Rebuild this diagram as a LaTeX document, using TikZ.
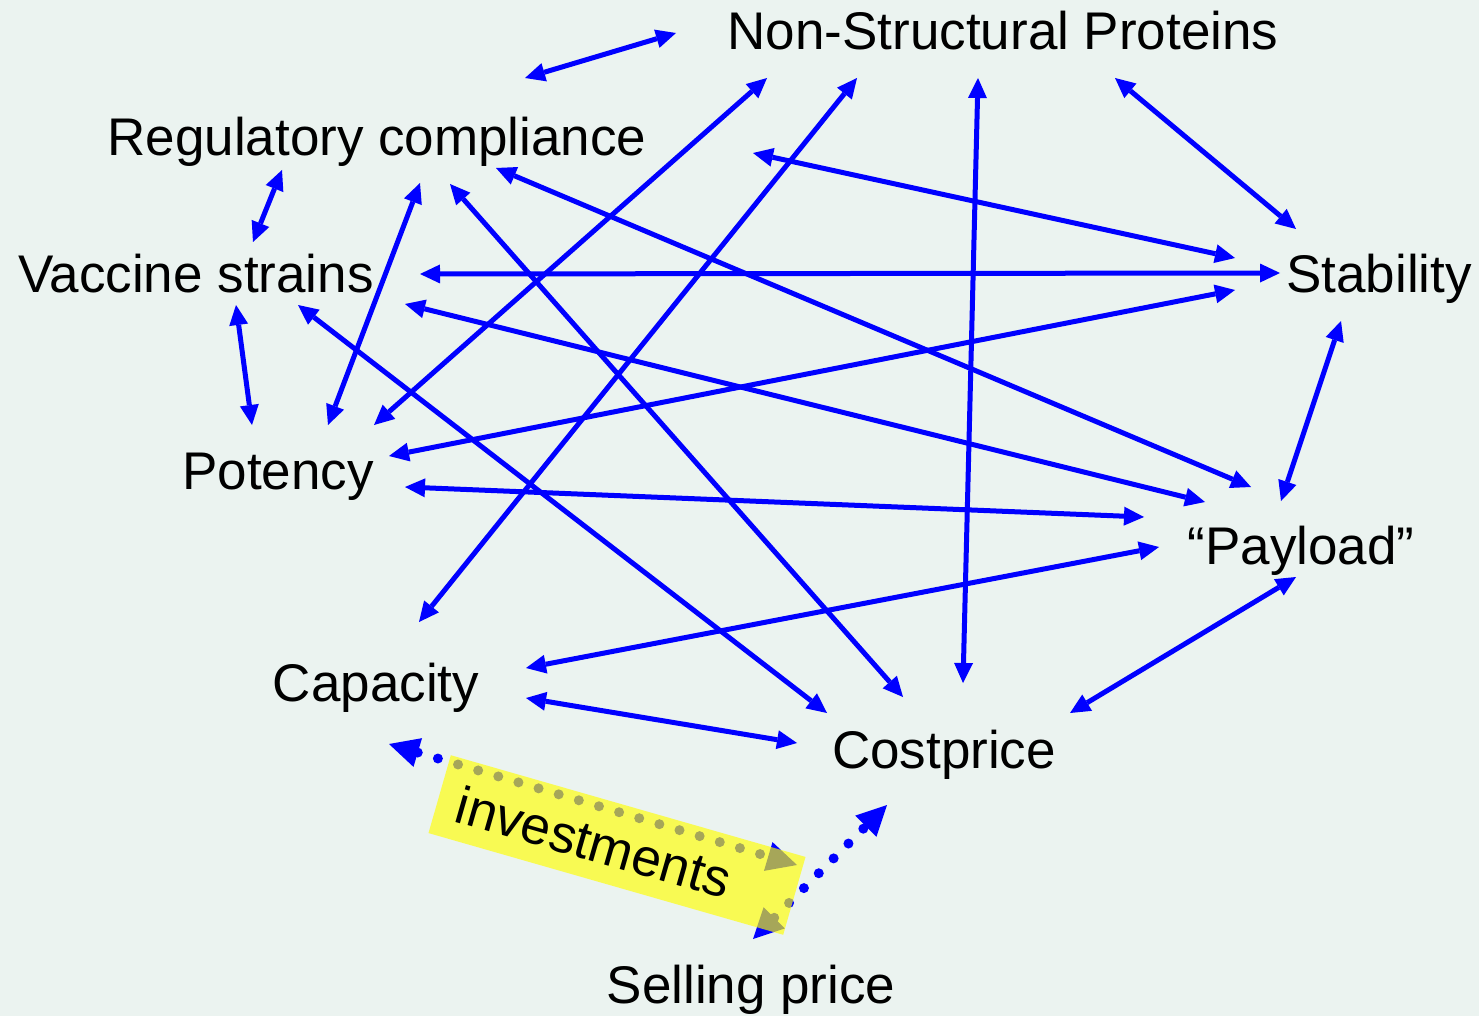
\documentclass[tikz,border=0pt]{standalone}
\usepackage{fontspec}
\setmainfont{Liberation Sans}
\usetikzlibrary{arrows.meta}
\definecolor{bgcol}{RGB}{235,243,240}
\definecolor{linkblue}{RGB}{0,0,255}
\definecolor{hilite}{RGB}{255,255,0}
\begin{document}
\begin{tikzpicture}[x=1pt,y=-1pt,
  lbl/.style={anchor=base,inner sep=0pt,font=\fontsize{53}{60}\selectfont},
  link/.style={draw=linkblue,line width=5pt,
    {Triangle[length=20pt,width=19pt,line width=0pt]}-{Triangle[length=20pt,width=19pt,line width=0pt]}},
  dotlink/.style={draw=linkblue,line width=10pt,line cap=round,dash pattern=on 0pt off 21pt,
    {Triangle[length=30pt,width=30pt,line width=0pt]}-{Triangle[length=30pt,width=30pt,line width=0pt]}}]
% canvas
\fill[bgcol] (0,0) rectangle (1479,1016);
\useasboundingbox (0,0) rectangle (1479,1016);

% labels
\node[lbl] (nsp)  at (1003,50)  {Non-Structural Proteins};
\node[lbl] (reg)  at (377,156)  {Regulatory compliance};
\node[lbl] (vac)  at (196,292)  {Vaccine strains};
\node[lbl] (stab) at (1379,292) {Stability};
\node[lbl] (pot)  at (278,489)  {Potency};
\node[lbl] (pay)  at (1301,564) {``Payload''};
\node[lbl] (cap)  at (376,701)  {Capacity};
\node[lbl] (cost) at (944,768)  {Costprice};
\node[lbl] (sell) at (751,1003) {Selling price};

% connector end points
\coordinate (freeA) at (525,78);   \coordinate (freeB) at (676,33);
\coordinate (nspA) at (767,78);    \coordinate (nspB) at (857,78);
\coordinate (nspC) at (978,78);    \coordinate (nspD) at (1115,78);
\coordinate (regA) at (282,170);   \coordinate (regB) at (420,183);
\coordinate (regC) at (450,184);   \coordinate (regD) at (496,168);
\coordinate (regE) at (753,153);
\coordinate (vacA) at (253,242);   \coordinate (vacB) at (236,305);
\coordinate (vacC) at (420,274);   \coordinate (vacD) at (405,304);
\coordinate (vacE) at (298,305);
\coordinate (stabA) at (1296,229); \coordinate (stabB) at (1235,258);
\coordinate (stabC) at (1280,273); \coordinate (stabD) at (1235,290);
\coordinate (stabE) at (1341,321);
\coordinate (potA) at (252,425);   \coordinate (potB) at (328,425);
\coordinate (potC) at (374,425);   \coordinate (potD) at (389,456);
\coordinate (potE) at (405,487);
\coordinate (payA) at (1251,487);  \coordinate (payB) at (1205,502);
\coordinate (payC) at (1281,501);  \coordinate (payD) at (1144,517);
\coordinate (payE) at (1159,547);  \coordinate (payF) at (1296,577);
\coordinate (capA) at (419,622);   \coordinate (capB) at (526,668);
\coordinate (capC) at (526,698);   \coordinate (capD) at (389,744);
\coordinate (costA) at (827,713);  \coordinate (costB) at (903,697);
\coordinate (costC) at (963,683);  \coordinate (costD) at (1070,713);
\coordinate (costE) at (797,743);  \coordinate (costF) at (887,805);
\coordinate (invA) at (797,865);   \coordinate (sellA) at (753,939);

% relations
\draw[link] (freeA) -- (freeB);
\draw[link] (nspA) -- (potC);
\draw[link] (nspB) -- (capA);
\draw[link] (nspC) -- (costC);
\draw[link] (nspD) -- (stabA);
\draw[link] (regA) -- (vacA);
\draw[link] (regB) -- (potB);
\draw[link] (regC) -- (costB);
\draw[link] (regD) -- (payA);
\draw[link] (regE) -- (stabB);
\draw[link] (vacB) -- (potA);
\draw[link] (vacC) -- (stabC);
\draw[link] (vacD) -- (payB);
\draw[link] (vacE) -- (costA);
\draw[link] (stabD) -- (potD);
\draw[link] (stabE) -- (payC);
\draw[link] (potE) -- (payD);
\draw[link] (payE) -- (capB);
\draw[link] (payF) -- (costD);
\draw[link] (capC) -- (costE);

% investment links
\draw[dotlink] (capD) -- (invA);
\draw[dotlink] (sellA) -- (costF);

% highlighted band
\node[rotate=-16,minimum width=369pt,minimum height=81pt,inner sep=0pt,
  fill=hilite,fill opacity=0.65] (band) at (617,845) {};
\node[rotate=-16,inner sep=0pt,font=\fontsize{53}{60}\selectfont] (inv) at (594,842) {investments};
\end{tikzpicture}
\end{document}
